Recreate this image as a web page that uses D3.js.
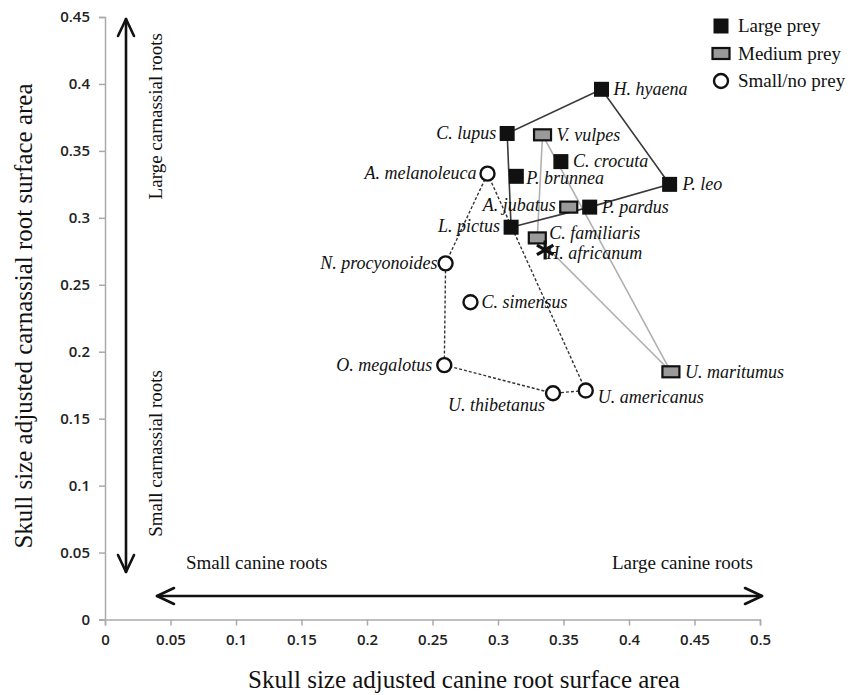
<!DOCTYPE html>
<html>
<head>
<meta charset="utf-8">
<script src="https://cdn.jsdelivr.net/npm/d3@7"></script>
<style>
  body { margin: 0; background: #fff; }
  .tick-label { font-family: "Open Sans", sans-serif; font-size: 15px; font-weight: 600; fill: #222; }
  .serif { font-family: "Liberation Serif", "Times New Roman", serif; fill: #111; }
  .species-label { font-style: italic; font-size: 18px; }
</style>
</head>
<body>
<div id="chart"></div>
<script>
// values
const species = [
  "H. hyaena", "C. lupus", "V. vulpes", "C. crocuta", "P. brunnea", "P. leo",
  "A. jubatus", "P. pardus", "L. pictus", "C. familiaris", "H. africanum",
  "A. melanoleuca", "N. procyonoides", "C. simensus", "O. megalotus",
  "U. thibetanus", "U. americanus", "U. maritumus"
];
const canineArea = [
  0.379, 0.307, 0.334, 0.348, 0.314, 0.431,
  0.354, 0.370, 0.310, 0.330, 0.336,
  0.292, 0.260, 0.279, 0.259,
  0.342, 0.367, 0.432
];
const carnassialArea = [
  0.396, 0.363, 0.362, 0.342, 0.331, 0.325,
  0.308, 0.308, 0.293, 0.285, 0.276,
  0.333, 0.266, 0.237, 0.190,
  0.169, 0.171, 0.185
];
const preyClass = [
  "large", "large", "medium", "large", "large", "large",
  "medium", "large", "large", "medium", "fossil",
  "small", "small", "small", "small",
  "small", "small", "medium"
];

// outlines joining each prey group
const largeHull = ["C. lupus", "H. hyaena", "P. leo", "P. pardus", "L. pictus"];
const mediumHull = ["V. vulpes", "U. maritumus", "C. familiaris"];
const smallHull = ["A. melanoleuca", "U. americanus", "U. thibetanus", "O. megalotus", "N. procyonoides"];

const xTicks = [0, 0.05, 0.1, 0.15, 0.2, 0.25, 0.3, 0.35, 0.4, 0.45, 0.5];
const yTicks = [0, 0.05, 0.1, 0.15, 0.2, 0.25, 0.3, 0.35, 0.4, 0.45];
const legendLabels = ["Large prey", "Medium prey", "Small/no prey"];
const legendClasses = ["large", "medium", "small"];

class Root_scatter {
  constructor(_config) {
    this.config = {
      parentElement: _config.parentElement,
      containerWidth: _config.containerWidth || 860,
      containerHeight: _config.containerHeight || 695,
      margin: { top: 17, right: 100, bottom: 75.5, left: 105 },
    };
    this.data = species.map((name, i) => ({
      name: name,
      x: canineArea[i],
      y: carnassialArea[i],
      prey: preyClass[i],
    }));
    this.initVis();
  }

  initVis() {
    let vis = this;
    const m = vis.config.margin;
    vis.config.width = vis.config.containerWidth - m.left - m.right;
    vis.config.height = vis.config.containerHeight - m.top - m.bottom;

    vis.xScale = d3.scaleLinear().domain([0, 0.5]).range([m.left, m.left + vis.config.width]);
    vis.yScale = d3.scaleLinear().domain([0, 0.45]).range([m.top + vis.config.height, m.top]);

    vis.svg = d3
      .select(vis.config.parentElement)
      .append("svg")
      .attr("width", vis.config.containerWidth)
      .attr("height", vis.config.containerHeight);

    vis.renderAxes();
    vis.renderArrows();
    vis.renderVis();
    vis.renderLegend();
  }

  renderAxes() {
    let vis = this;
    const xAxis = d3.axisBottom(vis.xScale).tickValues(xTicks).tickSize(6).tickPadding(9)
      .tickFormat((d) => String(d));
    const yAxis = d3.axisLeft(vis.yScale).tickValues(yTicks).tickSize(6).tickPadding(9)
      .tickFormat((d) => String(d));

    const gx = vis.svg.append("g")
      .attr("transform", `translate(0,${vis.yScale(0)})`)
      .call(xAxis);
    const gy = vis.svg.append("g")
      .attr("transform", `translate(${vis.xScale(0)},0)`)
      .call(yAxis);

    [gx, gy].forEach((g) => {
      g.select(".domain").attr("stroke", "#aaa").attr("stroke-width", 1.5);
      g.selectAll(".tick line").attr("stroke", "#aaa").attr("stroke-width", 1.5);
      g.selectAll(".tick text").attr("class", "tick-label").attr("fill", null);
    });

    // axis titles
    vis.svg.append("text")
      .attr("class", "serif")
      .attr("x", 464)
      .attr("y", 688)
      .attr("text-anchor", "middle")
      .attr("font-size", 25)
      .text("Skull size adjusted canine root surface area");

    vis.svg.append("text")
      .attr("class", "serif")
      .attr("transform", "translate(32,316) rotate(-90)")
      .attr("text-anchor", "middle")
      .attr("font-size", 25)
      .text("Skull size adjusted carnassial root surface area");
  }

  renderArrows() {
    let vis = this;
    const g = vis.svg.append("g")
      .attr("stroke", "#111")
      .attr("stroke-width", 2.6)
      .attr("fill", "none")
      .attr("stroke-linecap", "round")
      .attr("stroke-linejoin", "round");

    // vertical double arrow
    const vx = 126, vTop = 19, vBot = 572;
    g.append("path").attr("d", `M${vx},${vTop} L${vx},${vBot}`);
    g.append("path").attr("d", `M${vx - 8},${vTop + 17} L${vx},${vTop} L${vx + 8},${vTop + 17}`);
    g.append("path").attr("d", `M${vx - 8},${vBot - 17} L${vx},${vBot} L${vx + 8},${vBot - 17}`);

    // horizontal double arrow
    const hy = 596, hLeft = 157, hRight = 762;
    g.append("path").attr("d", `M${hLeft},${hy} L${hRight},${hy}`);
    g.append("path").attr("d", `M${hLeft + 17},${hy - 8} L${hLeft},${hy} L${hLeft + 17},${hy + 8}`);
    g.append("path").attr("d", `M${hRight - 17},${hy - 8} L${hRight},${hy} L${hRight - 17},${hy + 8}`);

    const notes = vis.svg.append("g").attr("class", "serif").attr("font-size", 19);
    notes.append("text").attr("x", 186).attr("y", 569).text("Small canine roots");
    notes.append("text").attr("x", 753).attr("y", 569).attr("text-anchor", "end").text("Large canine roots");
    notes.append("text")
      .attr("transform", "translate(162,33) rotate(-90)")
      .attr("text-anchor", "end")
      .text("Large carnassial roots");
    notes.append("text")
      .attr("transform", "translate(162,370) rotate(-90)")
      .attr("text-anchor", "end")
      .text("Small carnassial roots");
  }

  renderVis() {
    let vis = this;
    const byName = {};
    vis.data.forEach((d) => (byName[d.name] = d));
    const line = d3.line()
      .x((n) => vis.xScale(byName[n].x))
      .y((n) => vis.yScale(byName[n].y))
      .curve(d3.curveLinearClosed);

    vis.svg.append("path")
      .attr("d", line(mediumHull))
      .attr("fill", "none")
      .attr("stroke", "#b0b0b0")
      .attr("stroke-width", 1.6);
    vis.svg.append("path")
      .attr("d", line(largeHull))
      .attr("fill", "none")
      .attr("stroke", "#3a3a3a")
      .attr("stroke-width", 1.6);
    vis.svg.append("path")
      .attr("d", line(smallHull))
      .attr("fill", "none")
      .attr("stroke", "#333")
      .attr("stroke-width", 1.4)
      .attr("stroke-dasharray", "3,2");

    // label placement: [dx, dy, anchor]
    const labelPos = {
      "H. hyaena": [12, 6, "start"],
      "C. lupus": [-11, 6, "end"],
      "V. vulpes": [14, 6, "start"],
      "C. crocuta": [12, 5, "start"],
      "P. brunnea": [10, 8, "start"],
      "P. leo": [13, 6, "start"],
      "A. jubatus": [-13, 4, "end"],
      "P. pardus": [12, 6, "start"],
      "L. pictus": [-11, 5, "end"],
      "C. familiaris": [12, 1, "start"],
      "H. africanum": [1, 9, "start"],
      "A. melanoleuca": [-11, 5, "end"],
      "N. procyonoides": [-8, 6, "end"],
      "C. simensus": [11, 6, "start"],
      "O. megalotus": [-12, 6, "end"],
      "U. thibetanus": [-8, 18, "end"],
      "U. americanus": [12, 12, "start"],
      "U. maritumus": [14, 6, "start"],
    };

    vis.svg.append("g")
      .selectAll("text")
      .data(vis.data)
      .join("text")
      .attr("class", "serif species-label")
      .attr("x", (d) => vis.xScale(d.x) + labelPos[d.name][0])
      .attr("y", (d) => vis.yScale(d.y) + labelPos[d.name][1])
      .attr("text-anchor", (d) => labelPos[d.name][2])
      .text((d) => d.name);

    const marks = vis.svg.append("g");
    vis.data.forEach((d) => {
      vis.drawMarker(marks, d.prey, vis.xScale(d.x), vis.yScale(d.y));
    });
  }

  drawMarker(g, prey, cx, cy) {
    if (prey == "large") {
      g.append("rect")
        .attr("x", cx - 7.5).attr("y", cy - 7.5)
        .attr("width", 15).attr("height", 15)
        .attr("fill", "#111");
    } else if (prey == "medium") {
      g.append("rect")
        .attr("x", cx - 8.5).attr("y", cy - 5.5)
        .attr("width", 17).attr("height", 11)
        .attr("fill", "#9a9a9a")
        .attr("stroke", "#111")
        .attr("stroke-width", 2.2);
    } else if (prey == "small") {
      g.append("circle")
        .attr("cx", cx).attr("cy", cy).attr("r", 7)
        .attr("fill", "#fff")
        .attr("stroke", "#111")
        .attr("stroke-width", 2.4);
    } else {
      // asterisk for the fossil specimen
      const a = g.append("g").attr("stroke", "#111").attr("stroke-width", 3.2);
      [90, 30, 150].forEach((deg) => {
        const r = (deg * Math.PI) / 180;
        a.append("line")
          .attr("x1", cx - 9.5 * Math.cos(r)).attr("y1", cy - 9.5 * Math.sin(r))
          .attr("x2", cx + 9.5 * Math.cos(r)).attr("y2", cy + 9.5 * Math.sin(r));
      });
    }
  }

  renderLegend() {
    let vis = this;
    const legend = vis.svg.append("g");
    legendClasses.forEach((c, i) => {
      const cy = 26 + i * 27.5;
      vis.drawMarker(legend, c, 721, cy);
      legend.append("text")
        .attr("class", "serif")
        .attr("font-size", 19)
        .attr("x", 738)
        .attr("y", cy + 6)
        .text(legendLabels[i]);
    });
  }
}

new Root_scatter({ parentElement: "#chart" });
</script>
</body>
</html>
